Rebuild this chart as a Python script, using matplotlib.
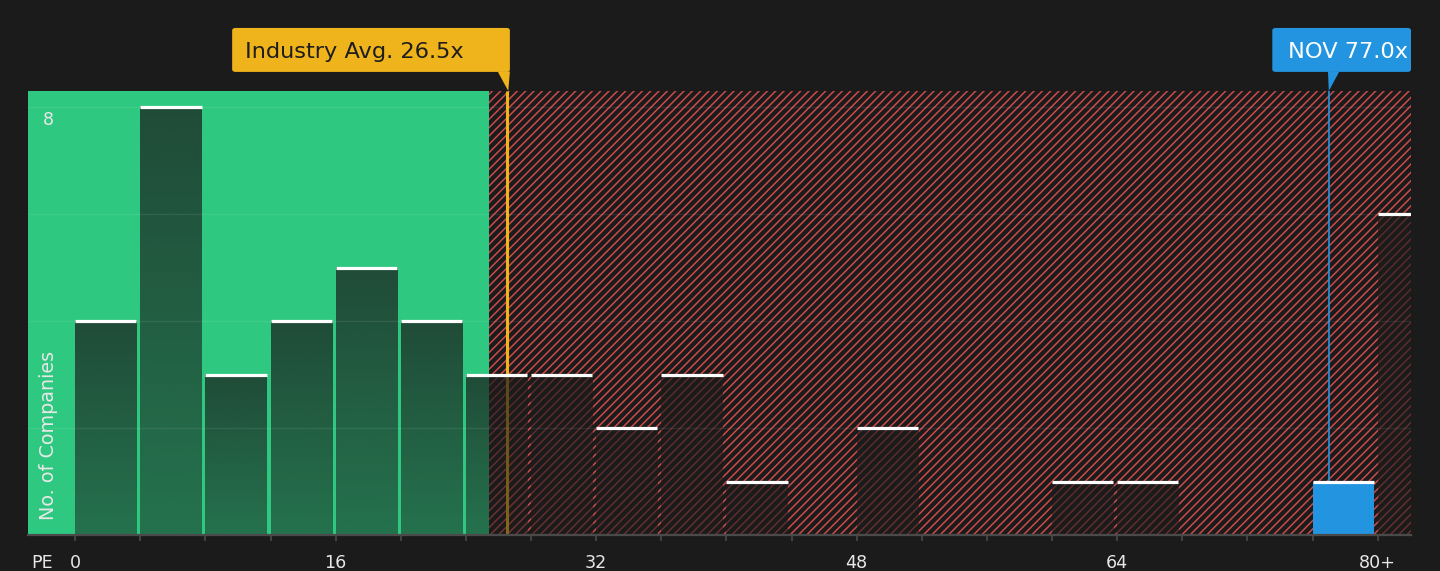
import numpy as np
import matplotlib
matplotlib.use("Agg")
import matplotlib.pyplot as plt
from matplotlib.patches import FancyBboxPatch, Polygon

# ---- data ----
bin_starts = [0, 4, 8, 12, 16, 20, 24, 28, 32, 36, 40, 44, 48, 52, 56, 60, 64, 68, 72, 76, 80]
counts = [4, 8, 3, 4, 5, 4, 3, 3, 2, 3, 1, 0, 2, 0, 0, 1, 1, 0, 0, 1, 6]
tick_positions = [0, 16, 32, 48, 64, 80]
tick_labels = ["0", "16", "32", "48", "64", "80+"]
industry_avg = 26.5
company_pe = 77.0
company_name = "NOV"
fair_edge = 25.4
bin_width = 4

BG = "#1b1b1b"
GREEN = "#2ec880"
RED = "#cc4b4b"
ORANGE = "#efb31b"
BLUE = "#2394df"
TXT = "#e8e8e8"

DPI = 100
plt.rcParams["hatch.linewidth"] = 1.1
plt.rcParams["font.family"] = ["DejaVu Sans"]

fig = plt.figure(figsize=(1440 / DPI, 571 / DPI), dpi=DPI, facecolor=BG)
ax = fig.add_axes([28 / 1440, 1 - 535 / 571, (1411 - 28) / 1440, (535 - 91) / 571])
ax.set_facecolor(BG)

XMIN, XMAX = -2.9, 82.05
YMAX = 8.3

# background zones
ax.axvspan(XMIN - 5, fair_edge, color=GREEN, lw=0, zorder=0)
ax.axvspan(fair_edge, XMAX + 5, facecolor=BG, edgecolor=RED, hatch="////", lw=0, zorder=0)

# reference lines (behind bars)
ax.plot([industry_avg, industry_avg], [0, 1.0], transform=ax.get_xaxis_transform(),
        color=ORANGE, lw=2.2, zorder=1, clip_on=False, solid_capstyle="butt")
ax.plot([company_pe, company_pe], [0, 1.0], transform=ax.get_xaxis_transform(),
        color=BLUE, lw=1.2, zorder=1, clip_on=False, solid_capstyle="butt")

# bars
bw = bin_width * 0.94
grad = np.zeros((64, 1, 4))
grad[..., 0] = 27 / 255
grad[..., 1] = 27 / 255
grad[..., 2] = 27 / 255
grad[:, 0, 3] = np.linspace(0.5, 0.72, 64)

for x0, c in zip(bin_starts, counts):
    if c <= 0:
        continue
    if x0 <= company_pe < x0 + bin_width:
        ax.bar(x0, c, width=bw, align="edge", color=BLUE, lw=0, zorder=3)
    else:
        g = grad.copy()
        if x0 >= fair_edge:
            g[:, 0, 3] = np.linspace(0.58, 0.66, 64)
        ax.imshow(g, extent=(x0, x0 + bw, 0, c), origin="lower", aspect="auto",
                  interpolation="bilinear", zorder=2)
    ax.hlines(c, x0, x0 + bw, color="white", lw=2.3, zorder=5)

# grid
for gy in [2, 4, 6, 8]:
    ax.axhline(gy, color="white", alpha=0.08, lw=1.0, zorder=4)

ax.set_xlim(XMIN, XMAX)
ax.set_ylim(0, YMAX)

# axes styling
for s in ["top", "left", "right"]:
    ax.spines[s].set_visible(False)
ax.spines["bottom"].set_color("#4a4a4a")
ax.spines["bottom"].set_linewidth(1.6)
ax.spines["bottom"].set_zorder(6)
ax.set_yticks([])
ax.set_xticks(bin_starts, minor=False)
ax.set_xticklabels([tick_labels[tick_positions.index(b)] if b in tick_positions else "" for b in bin_starts])
ax.tick_params(axis="x", colors="#4a4a4a", length=4.2, width=1.2, pad=9.3, labelsize=12.6,
               labelcolor=TXT)

ax.text(0.0105, -0.063, "PE", transform=ax.transAxes, color=TXT, fontsize=12.6,
        ha="center", va="center")
ax.text(0.0145, 7.75, "8", transform=ax.get_yaxis_transform(), color=TXT, fontsize=12.6,
        ha="center", va="center", zorder=7)
ax.text(0.0145, 0.034, "No. of Companies", transform=ax.transAxes, rotation=90,
        color=TXT, fontsize=13.8, ha="center", va="bottom", zorder=7)

# annotation boxes
xt = ax.get_xaxis_transform()
y0b, y1b = 1.043, 1.142
# industry
box = FancyBboxPatch((9.64, y0b), industry_avg + 0.2 - 9.64, y1b - y0b,
                     boxstyle="round,pad=0,rounding_size=0.2", transform=xt,
                     fc=ORANGE, ec="none", clip_on=False, zorder=8, mutation_aspect=0.03)
ax.add_patch(box)
ax.add_patch(Polygon([(industry_avg - 0.55, y0b + 0.001), (industry_avg + 0.2, y0b + 0.001),
                      (industry_avg + 0.1, 1.0)], closed=True, transform=xt,
                     fc=ORANGE, ec="none", clip_on=False, zorder=8))
ax.text(10.44, (y0b + y1b) / 2 - 0.004, f"Industry Avg. {industry_avg:.1f}x", transform=xt,
        color="#1e1e1e", fontsize=16.2, ha="left", va="center", zorder=9)
# company
box2 = FancyBboxPatch((73.53, y0b), XMAX - 73.53, y1b - y0b,
                      boxstyle="round,pad=0,rounding_size=0.2", transform=xt,
                      fc=BLUE, ec="none", clip_on=False, zorder=8, mutation_aspect=0.03)
ax.add_patch(box2)
ax.add_patch(Polygon([(company_pe - 0.05, y0b + 0.001), (company_pe + 0.65, y0b + 0.001),
                      (company_pe, 1.0)], closed=True, transform=xt,
                     fc=BLUE, ec="none", clip_on=False, zorder=8))
ax.text(74.5, (y0b + y1b) / 2 - 0.004, f"{company_name} {company_pe:.1f}x", transform=xt,
        color="white", fontsize=16.2, ha="left", va="center", zorder=9)

fig.savefig("out.png", dpi=DPI, facecolor=BG)
